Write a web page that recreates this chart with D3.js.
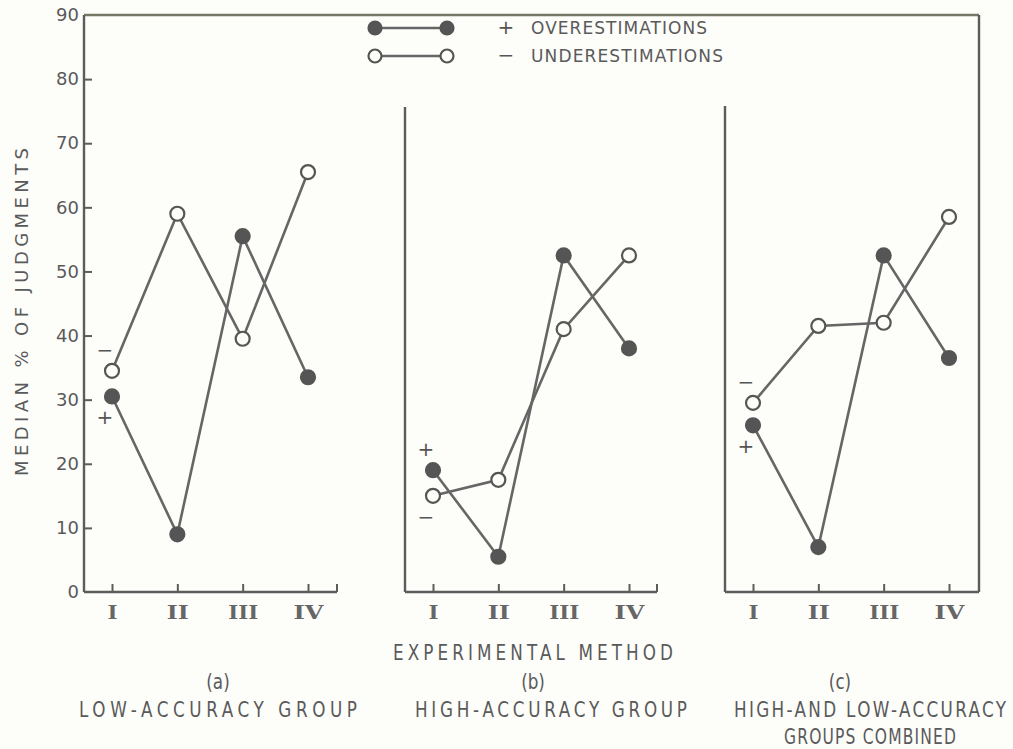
<!DOCTYPE html>
<html><head><meta charset="utf-8">
<script src="https://cdn.jsdelivr.net/npm/d3@7/dist/d3.min.js"></script>
<style>
html,body{margin:0;padding:0;background:#fdfdfa;}
svg{display:block;}
</style></head>
<body>
<svg id="c" width="1013" height="749"></svg>
<script>
const methods = ["I", "II", "III", "IV"];
const yTicks = [0, 10, 20, 30, 40, 50, 60, 70, 80, 90];
const panelIds = ["(a)", "(b)", "(c)"];
const panelTitles = [["LOW-ACCURACY GROUP"], ["HIGH-ACCURACY GROUP"], ["HIGH-AND LOW-ACCURACY", "GROUPS COMBINED"]];
const overA = [30.5, 9, 55.5, 33.5];
const underA = [34.5, 59, 39.5, 65.5];
const overB = [19, 5.5, 52.5, 38];
const underB = [15, 17.5, 41, 52.5];
const overC = [26, 7, 52.5, 36.5];
const underC = [29.5, 41.5, 42, 58.5];
const legendLabels = ["OVERESTIMATIONS", "UNDERESTIMATIONS"];

const ink = "#5c5c5c";
const txt = "#5a5a5a";
const font = "'DejaVu Sans',sans-serif";
const svg = d3.select("#c");

const y = d3.scaleLinear().domain([0, 90]).range([592, 15]);
const panels = [
  {left: 84, right: 337, topY: 15, over: overA, under: underA, hook: true},
  {left: 405, right: 657, topY: 107, over: overB, under: underB, hook: true},
  {left: 725, right: 979, topY: 106, over: overC, under: underC, hook: false}
];
const frameRight = 979;

const g = svg.append("g");
g.append("line").attr("x1", 84).attr("x2", frameRight).attr("y1", y(90)).attr("y2", y(90))
  .attr("stroke", "#777766").attr("stroke-width", 2.4);
g.append("line").attr("x1", frameRight).attr("x2", frameRight).attr("y1", y(90)).attr("y2", y(0))
  .attr("stroke", ink).attr("stroke-width", 2.4);

panels.forEach((p, i) => {
  const x = d3.scalePoint().domain(methods).range([p.left + 28, p.left + 224]);
  g.append("line").attr("x1", p.left).attr("x2", p.left).attr("y1", p.topY).attr("y2", y(0))
    .attr("stroke", ink).attr("stroke-width", 2.4);
  const xa = g.append("g").attr("transform", `translate(0,${y(0)})`)
    .call(d3.axisBottom(x).tickSize(-8).tickSizeOuter(0).tickPadding(14));
  xa.select(".domain").remove();
  xa.selectAll(".tick line").attr("stroke", ink).attr("stroke-width", 2);
  xa.selectAll(".tick text").attr("fill", "#666").attr("font-family", "'DejaVu Serif','Liberation Serif',serif")
    .attr("font-weight", "bold").attr("font-size", 18)
    .attr("textLength", d => ({I: 10, II: 22, III: 30, IV: 30})[d]).attr("lengthAdjust", "spacingAndGlyphs");
  g.append("line").attr("x1", p.left).attr("x2", p.right).attr("y1", y(0)).attr("y2", y(0))
    .attr("stroke", ink).attr("stroke-width", 2.4);
  if (p.hook) {
    g.append("line").attr("x1", p.right).attr("x2", p.right).attr("y1", y(0)).attr("y2", y(0) - 8)
      .attr("stroke", ink).attr("stroke-width", 2);
  }
  if (i === 0) {
    const ya = g.append("g").attr("transform", `translate(${p.left},0)`)
      .call(d3.axisLeft(y).tickValues(yTicks).tickSize(-8).tickPadding(14).tickFormat(d3.format("d")));
    ya.select(".domain").remove();
    ya.selectAll(".tick line").attr("stroke", ink).attr("stroke-width", 2)
      .filter(d => d === 0 || d === 90).remove();
    ya.selectAll(".tick text").attr("fill", txt).attr("font-family", font).attr("font-size", 18)
      .attr("x", -5);
  }
  const line = d3.line().x((d, k) => x(methods[k])).y(d => y(d));
  [p.over, p.under].forEach(vals => {
    g.append("path").attr("d", line(vals)).attr("fill", "none").attr("stroke", "#666")
      .attr("stroke-width", 2.6);
  });
  [p.over, p.under].forEach((vals, s) => {
    g.selectAll(null).data(vals).enter().append("circle")
      .attr("cx", (d, k) => x(methods[k])).attr("cy", d => y(d)).attr("r", 7)
      .attr("fill", s === 0 ? "#555" : "#fdfdfa").attr("stroke", "#555").attr("stroke-width", 2.2);
  });
  const overHigher = p.over[0] > p.under[0];
  [[p.over[0], "+", overHigher], [p.under[0], "\u2212", !overHigher]].forEach(([v, sgn, above]) => {
    g.append("text").attr("x", x(methods[0]) - 7).attr("y", y(v) + (above ? -14 : 28))
      .attr("text-anchor", "middle").attr("font-family", font).attr("font-size", 20)
      .attr("fill", "#555").text(sgn);
  });
});

svg.append("text").attr("transform", "translate(28,312) rotate(-90)")
  .attr("text-anchor", "middle").attr("font-family", font).attr("font-size", 18)
  .attr("fill", txt).attr("textLength", 328).attr("lengthAdjust", "spacing")
  .text("MEDIAN  %  OF  JUDGMENTS");

const lg = svg.append("g");
[0, 1].forEach(s => {
  const ly = s === 0 ? 28 : 56;
  lg.append("line").attr("x1", 375).attr("x2", 447).attr("y1", ly).attr("y2", ly)
    .attr("stroke", "#666").attr("stroke-width", 2.6);
  [375, 447].forEach(cx => lg.append("circle").attr("cx", cx).attr("cy", ly).attr("r", 6.5)
    .attr("fill", s === 0 ? "#555" : "#fdfdfa").attr("stroke", "#555").attr("stroke-width", 2.2));
  lg.append("text").attr("x", 506).attr("y", ly + 6).attr("text-anchor", "middle")
    .attr("font-family", font).attr("font-size", 20).attr("fill", "#555").text(s === 0 ? "+" : "\u2212");
  lg.append("text").attr("x", 531).attr("y", ly + 6).attr("font-family", font).attr("font-size", 17)
    .attr("fill", txt).attr("textLength", s === 0 ? 176 : 192).attr("lengthAdjust", "spacing")
    .text(legendLabels[s]);
});

// condensed lettering for the bottom captions
function caption(cx, cy, str, len, sx) {
  const t = svg.append("text").attr("transform", `translate(${cx},${cy}) scale(${sx},1)`)
    .attr("text-anchor", "middle").attr("font-family", font).attr("font-size", 21)
    .attr("fill", txt).text(str);
  if (len) t.attr("textLength", len / sx).attr("lengthAdjust", "spacing");
  return t;
}
caption(533, 660, "EXPERIMENTAL  METHOD", 280, 0.8);
const idX = [218, 533, 840];
const titleX = [218, 551, 870];
const titleLen = [[278], [272], [272, 172]];
const titleSx = [[0.8], [0.8], [0.8, 0.74]];
panelIds.forEach((t, i) => {
  caption(idX[i], 689, t, null, 0.8);
  panelTitles[i].forEach((line, j) => caption(titleX[i], 717 + j * 27, line, titleLen[i][j], titleSx[i][j]));
});
</script>
</body></html>
